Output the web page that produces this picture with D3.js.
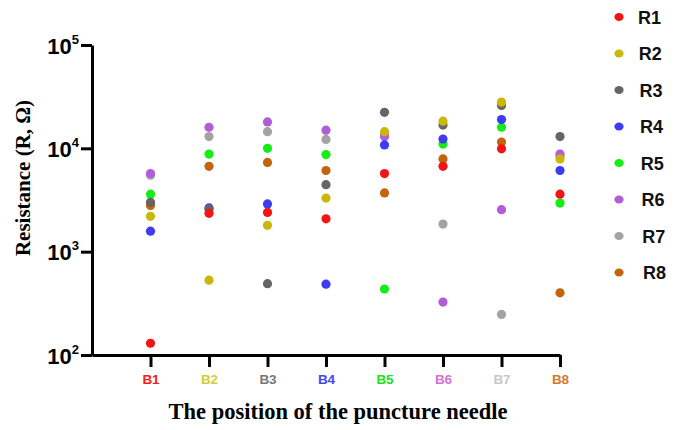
<!DOCTYPE html>
<html><head><meta charset="utf-8">
<script src="https://cdn.jsdelivr.net/npm/d3@7"></script>
<style>body{margin:0;background:#fff}svg{display:block}</style>
</head><body><svg id="c" width="676" height="430"></svg>
<script>
const categories = ["B1","B2","B3","B4","B5","B6","B7","B8"];
const seriesNames = ["R1","R2","R3","R4","R5","R6","R7","R8"];
const R1 = [130, 2350, 2400, 2080, 5700, 6700, 9900, 3600];
const R2 = [2200, 530, 1800, 3300, 14500, 18300, 28000, 7900];
const R3 = [3000, 2580, 490, 4450, 22300, 16800, 26000, 13000];
const R4 = [1580, 2650, 2900, 485, 10800, 12300, 19000, 6100];
const R5 = [3600, 8800, 10000, 8700, 435, 11000, 16000, 2950];
const R6 = [5700, 16000, 18000, 15000, 13000, 325, 2550, 8800];
const R7 = [5500, 13000, 14500, 12200, 13500, 1850, 247, 8400];
const R8 = [2800, 6700, 7300, 6100, 3700, 7900, 11500, 400];
const yTicks = [100, 1000, 10000, 100000];
const seriesColors = ["#f41414","#c9b80a","#656565","#3c3cf2","#14ee14","#b35cd8","#a3a3a3","#c4640e"];
const tickColors = ["#f42020","#d3cc3a","#777777","#4646ee","#22e022","#d273d6","#c8c8c8","#d47a2c"];

const series = [R1,R2,R3,R4,R5,R6,R7,R8];
const svg = d3.select("#c");
const x = d3.scaleLinear().domain([0, 8]).range([92, 560]);
const y = d3.scaleLog().domain([100, 100000]).range([355, 45]);

// points: R8 first, R1 last (R1 on top)
const pts = [];
for (let s = series.length - 1; s >= 0; s--) {
  series[s].forEach((v, i) => pts.push({s, i, v}));
}
svg.append("g").selectAll("circle").data(pts).join("circle")
  .attr("cx", d => x(d.i + 1)).attr("cy", d => y(d.v)).attr("r", 4.6)
  .attr("fill", d => seriesColors[d.s]);

// x axis
const gx = svg.append("g").attr("transform", "translate(0,355)")
  .call(d3.axisBottom(x).tickValues(d3.range(1, 9)).tickSize(12).tickSizeOuter(0)
    .tickFormat(d => categories[d - 1]));
gx.select(".domain").attr("stroke", "#000").attr("stroke-width", 3);
gx.selectAll(".tick line").attr("stroke", "#000").attr("stroke-width", 3);
gx.selectAll(".tick text").attr("font-family", "Liberation Sans, Arial, sans-serif")
  .attr("font-size", 13.5).attr("font-weight", "bold").attr("y", 19).attr("dy", "0.71em")
  .attr("fill", (d) => tickColors[d - 1]);

// y axis
const gy = svg.append("g").attr("transform", "translate(92,0)")
  .call(d3.axisLeft(y).tickValues(yTicks).tickSize(11).tickSizeOuter(0).tickFormat(""));
gy.select(".domain").attr("stroke", "#000").attr("stroke-width", 3);
gy.selectAll(".tick line").attr("stroke", "#000").attr("stroke-width", 3);
gy.selectAll(".tick").each(function(d) {
  const t = d3.select(this).append("text").attr("x", -13).attr("y", 8)
    .attr("text-anchor", "end").attr("fill", "#000")
    .attr("font-family", "Liberation Sans, Arial, sans-serif").attr("font-weight", "bold");
  t.append("tspan").attr("font-size", 22).text("10");
  t.append("tspan").attr("font-size", 13).attr("dy", -10).text(String(Math.round(Math.log10(d))));
});

// axis titles
svg.append("text").attr("transform", "translate(30,178) rotate(-90)")
  .attr("text-anchor", "middle").attr("font-family", "Liberation Serif, Times New Roman, serif")
  .attr("font-weight", "bold").attr("font-size", 21).attr("fill", "#000")
  .text("Resistance (R, Ω)");
svg.append("text").attr("x", 338).attr("y", 419)
  .attr("text-anchor", "middle").attr("font-family", "Liberation Serif, Times New Roman, serif")
  .attr("font-weight", "bold").attr("font-size", 22.5).attr("fill", "#000")
  .text("The position of the puncture needle");

// legend
const lg = svg.append("g");
seriesNames.forEach((n, k) => {
  const cy = 17 + k * 36.5;
  lg.append("ellipse").attr("cx", 619).attr("cy", cy).attr("rx", 4.6).attr("ry", 4)
    .attr("fill", seriesColors[k]);
  lg.append("text").attr("x", 638 + k * 0.7).attr("y", cy + 6.5)
    .attr("font-family", "Liberation Sans, Arial, sans-serif").attr("font-weight", "bold")
    .attr("font-size", 18).attr("fill", "#111").text(n);
});
</script></body></html>
